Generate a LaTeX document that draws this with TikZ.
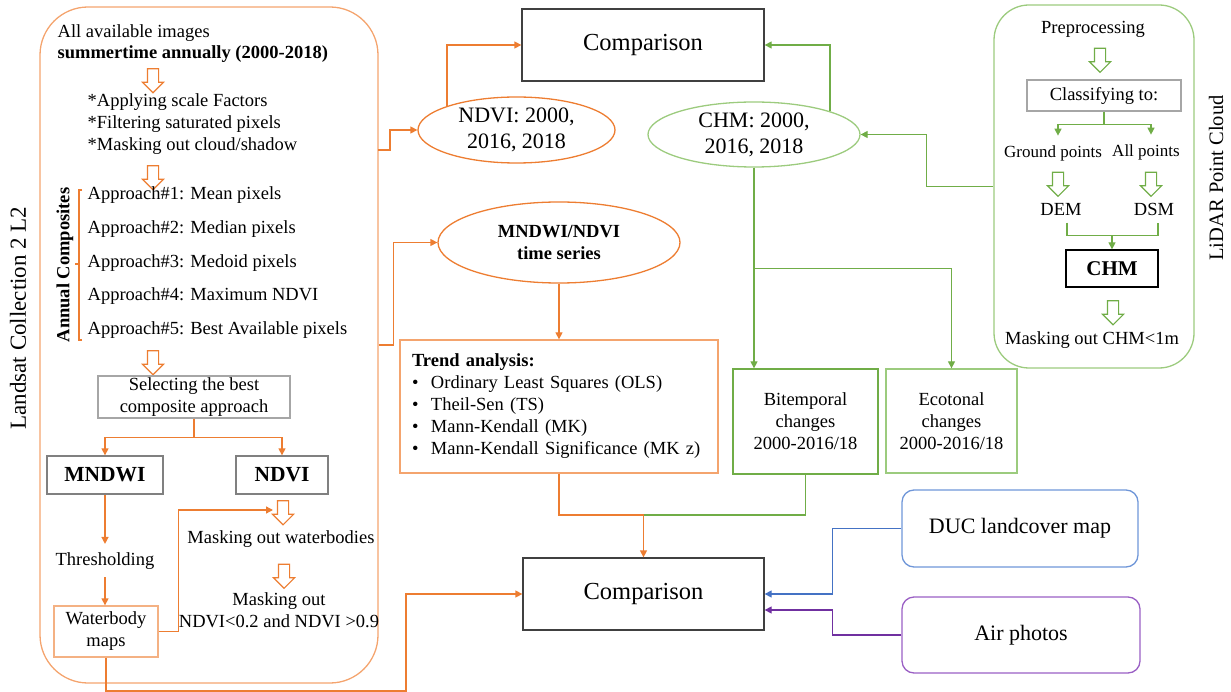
\documentclass[tikz,border=0pt]{standalone}
\usepackage{fontspec}
\setmainfont{Liberation Serif}
\usetikzlibrary{arrows.meta,shapes.geometric,shapes.arrows}

\definecolor{lsorange}{HTML}{ED7D31}
\definecolor{softorange}{HTML}{F4A46E}
\definecolor{paleorange}{HTML}{F4B183}
\definecolor{lgreen}{HTML}{70AD47}
\definecolor{softgreen}{HTML}{9CCB7E}
\definecolor{lblue}{HTML}{4472C4}
\definecolor{softblue}{HTML}{6F96D8}
\definecolor{lpurple}{HTML}{7030A0}
\definecolor{softpurple}{HTML}{9A5FC4}
\definecolor{lgray}{HTML}{A6A6A6}
\definecolor{mgray}{HTML}{808080}
\definecolor{dgray}{HTML}{404040}

\newcommand{\fsz}[2]{\fontsize{#1}{#2}\selectfont}

\begin{document}
\begin{tikzpicture}[x=1pt, y=-1pt, line width=1.3pt,
  txt/.style={font=\fsz{18.5}{22}, inner sep=0pt, align=center},
  bold/.style={font=\fsz{18.5}{22}\bfseries},
  box/.style={draw=#1, txt},
  oline/.style={draw=lsorange},
  oarrow/.style={oline, -{Triangle[length=7pt,width=7pt]}},
  gline/.style={draw=lgreen},
  garrow/.style={gline, -{Triangle[length=7pt,width=7pt]}},
  barrow/.style={draw=lblue, -{Triangle[length=7pt,width=7pt]}},
  parrow/.style={draw=lpurple, -{Triangle[length=7pt,width=7pt]}},
  hollow/.style={single arrow, draw=#1, fill=white, shape border rotate=270,
    minimum height=24pt, minimum width=20pt, single arrow head extend=5pt,
    single arrow head indent=0pt, inner sep=5pt, line width=1.1pt}]

  \useasboundingbox (0,0) rectangle (1231,692);

  % Landsat part
  \node[draw=softorange, rounded corners=48pt, minimum width=338, minimum height=676] (lsbox) at (209,345) {};
  \node[txt, font=\fsz{23}{27}, rotate=90] (lslabel) at (18,318) {Landsat Collection 2 L2};
  \node[txt, anchor=west] (allimg) at (57,33) {All available images};
  \node[txt, bold, anchor=west] (summer) at (57,54) {summertime annually (2000-2018)};
  \node[hollow=lsorange] (h1) at (153,78) {};
  \node[txt, anchor=west, align=left] (prep) at (87,124) {*Applying scale Factors\\*Filtering saturated pixels\\*Masking out cloud/shadow};
  \node[hollow=lsorange] (h2) at (153,175) {};
  \foreach [count=\i] \t/\y in {Mean pixels/195, Median pixels/229, Medoid pixels/263, Maximum NDVI/296, Best Available pixels/330}
    \node[txt, anchor=west] (appr\i) at (87,\y) {Approach\#\i: \t};
  \draw[oline] (82,190) -| (79,340) -- (82,340) (79,264) -- (75,264);
  \node[txt, bold, rotate=90] (annual) at (65,265) {Annual Composites};
  \node[hollow=lsorange] (h3) at (153,360) {};
  \node[box=lgray, minimum width=192, minimum height=42] (select) at (194,397) {Selecting the best\\composite approach};
  \node[box=mgray, font=\fsz{21.5}{25}\bfseries, minimum width=116, minimum height=38] (mndwi) at (105,475) {MNDWI};
  \node[box=mgray, font=\fsz{21.5}{25}\bfseries, minimum width=92, minimum height=38] (ndvi) at (282,475) {NDVI};
  \draw[oarrow] (select.south) -- ++(0,19) -| (mndwi.north);
  \draw[oarrow] (select.south) -- ++(0,19) -| (ndvi.north);
  \node[txt] (thresh) at (105,561) {Thresholding};
  \node[box=paleorange, minimum width=104, minimum height=51] (wbody) at (106,631.5) {Waterbody\\maps};
  \draw[oarrow, shorten >=8pt] (mndwi.south) -- (mndwi.south |- thresh.north);
  \draw[oarrow, shorten <=7pt] (thresh.south) -- (thresh.south |- wbody.north);
  \node[hollow=lsorange] (h4) at (283,510) {};
  \draw[oarrow, shorten >=10pt] (wbody.east) -- ++(20,0) |- (h4.center);
  \node[txt] (maskwb) at (281,539) {Masking out waterbodies};
  \node[hollow=lsorange] (h5) at (284,573.5) {};
  \node[txt] (maskndvi) at (279,610.5) {Masking out\\NDVI<0.2 and NDVI >0.9};

  % middle
  \node[box=dgray, font=\fsz{24.5}{29}, minimum width=242, minimum height=72] (cmp1) at (643,45) {Comparison};
  \node[box=dgray, font=\fsz{24.5}{29}, minimum width=241, minimum height=72] (cmp2) at (643.5,594) {Comparison};
  \node[draw=lsorange, ellipse, txt, font=\fsz{22}{26}, minimum width=197, minimum height=66] (ndviell) at (516.5,130) {NDVI: 2000,\\2016, 2018};
  \node[draw=lsorange, ellipse, txt, bold, minimum width=242, minimum height=81] (tsell) at (559,242.5) {MNDWI/NDVI\\time series};
  \node[draw=softorange, txt, align=left, text width=294pt, inner xsep=12pt, minimum height=133] (trend) at (559,406.5)
    {\textbf{Trend analysis:}\\
     \makebox[19pt][l]{\textbullet}Ordinary Least Squares (OLS)\\
     \makebox[19pt][l]{\textbullet}Theil-Sen (TS)\\
     \makebox[19pt][l]{\textbullet}Mann-Kendall (MK)\\
     \makebox[19pt][l]{\textbullet}Mann-Kendall Significance (MK z)};

  \coordinate (lsout) at (378,150);
  \coordinate (merge) at (643.5,515);
  \coordinate (bottomturn) at (406,691);
  \draw[oarrow] (lsout) -- ++(12,0) |- (ndviell.west);
  \draw[oarrow] (ndviell.161) |- (cmp1.west);
  \draw[oarrow] (lsbox.east) -- ++(15,0) |- (tsell.west);
  \draw[oarrow] (tsell.south) -- (trend.north);
  \draw[oline] (trend.south) |- (merge);
  \draw[oarrow] (merge) -- (cmp2.north);
  \draw[oarrow] (wbody.south) |- (bottomturn) |- (cmp2.west);

  % CHM branch
  \node[draw=softgreen, ellipse, txt, font=\fsz{22}{26}, minimum width=212, minimum height=65] (chmell) at (754,134.5) {CHM: 2000,\\2016, 2018};
  \node[box=lgreen, minimum width=145, minimum height=105] (bitemp) at (805.5,421.5) {Bitemporal\\changes\\2000-2016/18};
  \node[box=softgreen, minimum width=131, minimum height=104] (ecoton) at (951.5,421) {Ecotonal\\changes\\2000-2016/18};
  \draw[garrow] (chmell.17) |- (cmp1.east);
  \draw[garrow] (chmell.south) -- (chmell.south |- bitemp.north);
  \draw[garrow] (chmell.south) -- ++(0,101) -| (ecoton.north);
  \draw[gline] (bitemp.south) |- (merge);

  % LiDAR part
  \node[draw=softgreen, rounded corners=35pt, minimum width=200, minimum height=363] (lidarbox) at (1094,186.5) {};
  \node[txt, font=\fsz{20.5}{24}, rotate=90] (lidarlabel) at (1216,178) {LiDAR Point Cloud};
  \draw[garrow] (lidarbox.west) -- ++(-67,0) |- (chmell.east);
  \node[txt] (preproc) at (1093,29) {Preprocessing};
  \node[hollow=lgreen] (h6) at (1100,57.5) {};
  \node[box=lgray, minimum width=154, minimum height=31] (classify) at (1104,95.5) {Classifying to:};
  \node[txt, font=\fsz{17}{20}] (ground) at (1053,153) {Ground points};
  \node[txt, font=\fsz{17}{20}] (allpts) at (1146,152) {All points};
  \draw[garrow] (classify.south) -- ++(0,13) -| ([xshift=5pt, yshift=9pt]ground.north);
  \draw[garrow] (classify.south) -- ++(0,13) -| ([xshift=5pt, yshift=9pt]allpts.north);
  \node[hollow=lgreen] (h7) at (1058,181.5) {};
  \node[hollow=lgreen] (h8) at (1151,181.5) {};
  \node[txt] (dem) at (1061,209) {DEM};
  \node[txt] (dsm) at (1154,209) {DSM};
  \node[box=black, font=\fsz{21}{25}\bfseries, minimum width=92, minimum height=37] (chm) at (1112,268.5) {CHM};
  \draw[gline] ([xshift=6pt, yshift=-7pt]dem.south) |- ([yshift=14pt]chm.north) -| ([xshift=4pt, yshift=-7pt]dsm.south);
  \draw[garrow] ([yshift=14pt]chm.north) -- (chm.north);
  \node[hollow=lgreen] (h9) at (1113,310) {};
  \node[txt] (maskchm) at (1092,340) {Masking out CHM<1m};

  % other sources
  \node[box=softblue, rounded corners=12pt, font=\fsz{22}{26}, minimum width=236, minimum height=77] (duc) at (1020,528.5) {DUC landcover map};
  \node[box=softpurple, rounded corners=12pt, font=\fsz{22}{26}, minimum width=238, minimum height=76] (air) at (1021,635) {Air photos};
  \draw[barrow] (duc.west) -- ++(-69,0) |- (cmp2.east);
  \draw[parrow] (air.west) -- ++(-69,0) |- ([yshift=-16pt]cmp2.east);

\end{tikzpicture}
\end{document}
